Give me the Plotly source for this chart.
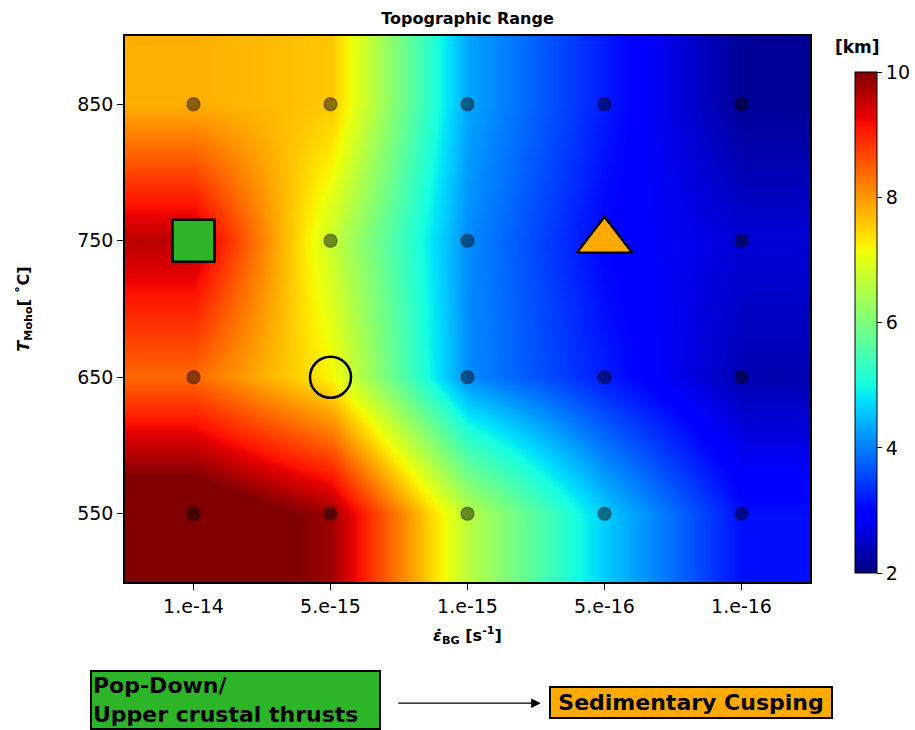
import plotly.graph_objects as go

# Background strain rate (columns) and Moho temperature (rows)
strain_labels = ["1.e-14", "5.e-15", "1.e-15", "5.e-16", "1.e-16"]
moho_temps = [550, 650, 750, 850]

# Topographic range [km] per model, one row per Moho temperature
topo_550 = [10.6, 9.8, 6.6, 4.6, 3.1]
topo_650 = [8.4, 7.2, 4.1, 3.2, 2.35]
topo_750 = [9.6, 6.75, 4.1, 3.0, 2.6]
topo_850 = [7.8, 7.6, 4.3, 3.2, 2.15]
topo_rows = [topo_550, topo_650, topo_750, topo_850]

# Highlighted models: (strain index, Moho temperature)
popdown_model = (0, 750)
cusping_model = (3, 750)
transition_model = (1, 650)

colorbar_ticks = [2, 4, 6, 8, 10]

# matplotlib-style jet colour map
_jet = {
    "r": [(0, 0), (0.35, 0), (0.66, 1), (0.89, 1), (1, 0.5)],
    "g": [(0, 0), (0.125, 0), (0.375, 1), (0.64, 1), (0.91, 0), (1, 0)],
    "b": [(0, 0.5), (0.11, 1), (0.34, 1), (0.65, 0), (1, 0)],
}


def _chan(pts, t):
    for (t0, v0), (t1, v1) in zip(pts[:-1], pts[1:]):
        if t0 <= t <= t1:
            return v0 + (v1 - v0) * (t - t0) / (t1 - t0)
    return pts[-1][1]


stops = sorted({t for pts in _jet.values() for t, _ in pts})
jet_scale = [
    [t, "rgb({:.0f},{:.0f},{:.0f})".format(*(255 * _chan(_jet[c], t) for c in "rgb"))]
    for t in stops
]

xi = list(range(len(strain_labels)))

fig = go.Figure()

fig.add_trace(go.Heatmap(
    x=xi, y=moho_temps, z=topo_rows,
    zmin=2, zmax=10, zsmooth="best", colorscale=jet_scale,
    colorbar=dict(
        x=1.066, xanchor="left", xpad=0, ypad=0,
        y=0.475, yanchor="middle", len=0.918, lenmode="fraction", thickness=22,
        outlinewidth=1, outlinecolor="black",
        ticks="outside", ticklen=5, tickcolor="black",
        tickvals=colorbar_ticks, tickfont=dict(size=19, color="black"),
    ),
    hoverinfo="skip",
))

# Small markers at every model except the highlighted ones
highlighted = {popdown_model, cusping_model, transition_model}
dots_x, dots_y = [], []
for t in moho_temps:
    for i in xi:
        if (i, t) not in highlighted:
            dots_x.append(i)
            dots_y.append(t)

fig.add_trace(go.Scatter(
    x=dots_x, y=dots_y, mode="markers",
    marker=dict(size=13, color="rgba(0,0,0,0.45)",
                line=dict(width=1.5, color="rgba(0,0,0,0.35)")),
    showlegend=False, hoverinfo="skip",
))

fig.add_trace(go.Scatter(
    x=[popdown_model[0]], y=[popdown_model[1]], mode="markers",
    marker=dict(symbol="square", size=42, color="#2db52a",
                line=dict(width=2.5, color="black")),
    showlegend=False,
))
fig.add_trace(go.Scatter(
    x=[cusping_model[0]], y=[cusping_model[1]], mode="markers",
    marker=dict(symbol="triangle-up", size=48, color="#ffaa00",
                line=dict(width=2.5, color="black")),
    showlegend=False,
))
fig.add_trace(go.Scatter(
    x=[transition_model[0]], y=[transition_model[1]], mode="markers",
    marker=dict(symbol="circle", size=41, color="rgba(0,0,0,0)",
                line=dict(width=2.5, color="black")),
    showlegend=False,
))

axis_font = dict(family="DejaVu Sans", size=19, color="black")

fig.update_layout(
    width=915, height=730,
    margin=dict(l=125, r=105, t=36, b=148, autoexpand=False),
    paper_bgcolor="white", plot_bgcolor="white",
    font=dict(family="DejaVu Sans", color="black"),
    title=dict(text="<b>Topographic Range</b>", x=0.5, xref="paper",
               y=1, yref="paper", yanchor="bottom", pad=dict(b=12),
               font=dict(size=16, color="black")),
    xaxis=dict(
        range=[-0.5, 4.5], tickvals=xi, ticktext=strain_labels,
        tickfont=axis_font, ticks="outside", ticklen=6, tickcolor="black",
        showline=True, linecolor="black", linewidth=1.5, mirror=True,
        showgrid=False, zeroline=False,
        title=dict(text="<b><i>ε̇</i><sub>BG</sub> [s<sup>-1</sup>]</b>",
                   font=dict(size=16), standoff=14),
    ),
    yaxis=dict(
        range=[500, 900], tickvals=moho_temps,
        tickfont=axis_font, ticks="outside", ticklen=6, tickcolor="black",
        showline=True, linecolor="black", linewidth=1.5, mirror=True,
        showgrid=False, zeroline=False,
        title=dict(text="<b><i>T</i><sub>Moho</sub>[ ˚C]</b>",
                   font=dict(size=16), standoff=44),
    ),
)

# Colour bar unit label
fig.add_annotation(
    xref="paper", yref="paper", x=1.070, y=0.980,
    xanchor="center", yanchor="middle", showarrow=False,
    text="<b>[km]</b>", font=dict(size=17, color="black"),
)

box_font = dict(family="DejaVu Sans", size=22, color="black")

fig.add_annotation(
    xref="paper", yref="paper", x=0.161, y=-0.2161,
    xanchor="center", yanchor="middle", width=285,
    text="<b>Pop-Down/<br>Upper crustal thrusts</b>", align="left",
    showarrow=False, font=box_font, bgcolor="#2db52a",
    bordercolor="black", borderwidth=2, borderpad=1,
)
fig.add_annotation(
    xref="paper", yref="paper", x=0.826, y=-0.2198,
    xanchor="center", yanchor="middle", width=276,
    text="<b>Sedimentary Cusping</b>",
    showarrow=False, font=box_font, bgcolor="#ffaa00",
    bordercolor="black", borderwidth=2, borderpad=2,
)
fig.add_annotation(
    xref="paper", yref="paper", x=0.607, y=-0.222, text="",
    showarrow=True, ax=-144, ay=0, arrowhead=2, arrowsize=1.6,
    arrowwidth=1.2, arrowcolor="black",
)

fig.write_html("out.html")
